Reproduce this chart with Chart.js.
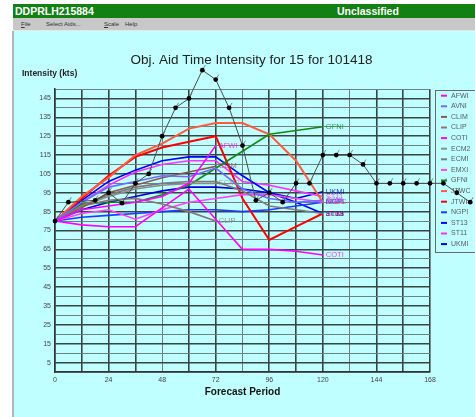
<!DOCTYPE html>
<html><head><meta charset="utf-8">
<script src="https://cdn.jsdelivr.net/npm/chart.js@4.4.0/dist/chart.umd.min.js"></script>
<style>
html,body{margin:0;padding:0;background:#fff;width:475px;height:417px;overflow:hidden;font-family:"Liberation Sans",Arial,sans-serif;}
#hdr{position:absolute;left:13px;top:4px;width:462px;height:14px;background:#128012;color:#fff;font-weight:bold;font-size:10.5px;line-height:14px;}
#hdr .l{position:absolute;left:2px;top:0}
#hdr .r{position:absolute;left:324px;top:0}
#menu{position:absolute;left:13px;top:18px;width:462px;height:12px;background:#c8c8c8;font-size:6px;line-height:12px;color:#333;border-bottom:1px solid #e6e6e6}
#menu span{position:absolute;top:0}
#side{position:absolute;left:12px;top:31px;width:2px;height:386px;background:#b4b4b4}
#bg{position:absolute;left:14px;top:31px;width:461px;height:386px;background:#c0ffff}
#wrap{position:absolute;left:13px;top:31px;width:462px;height:386px}
</style></head>
<body>
<div id="hdr"><span class="l">DDPRLH215884</span><span class="r">Unclassified</span></div>
<div id="menu"><span style="left:8px"><u>F</u>ile</span><span style="left:33px">Select Aids...</span><span style="left:91px"><u>S</u>cale</span><span style="left:112px">Help</span></div>
<div id="side"></div>
<div id="bg"></div>
<div id="wrap"><canvas id="c" width="462" height="386"></canvas></div>
<script>
// ---- data ----
const hours = [0, 12, 24, 36, 48, 60, 72, 84, 96, 108, 120];
const AFWI = [80, 86, 88, 90, 93, 100, 120];
const AVNI = [80, 90, 98, 101, 104, 103.5, 108, 97, 92, 90, 91];
const CLIM = [80, 87, 95, 99, 103, 106, 109];
const CLIP = [80, 88, 91, 92, 89, 85, 80];
const COTI = [80, 78, 77, 77, 87, 97, 81, 65, 65, 64, 62];
const ECM2 = [80, 88, 93, 97, 99, 100, 100];
const ECMI = [80, 88, 94, 98, 100, 101, 101, 96, 88, 86, 84];
const EMXI = [80, 84, 86, 81, 86, 90, 92, 94, 94, 92, 90];
const GFNI = [80, 89, 90, 90, 94, 99, 108, 117, 126, 128, 130];
const JTWC = [80, 93, 103, 115, 121, 129, 132, 132, 126, 112, 90];
const JTWI = [80, 92, 104, 114, 119, 122, 125, 92, 70, 77, 84];
const NGPI = [80, 82, 83, 84, 85, 86, 86, 85, 86, 88, 90];
const ST13 = [80, 91, 101, 107, 112, 114, 114, 104, 95, 90, 84];
const ST11 = [80, 90, 99, 106, 110, 112, 112, 101, 99, 96, 93];
const UKMI = [80, 86, 90, 93, 96, 98, 98, 97, 95, 92, 95.5];
const bestHours = [0, 6, 18, 24, 30, 36, 42, 48, 54, 60, 66, 72, 78, 84, 90, 96, 102, 108, 114, 120, 126, 132, 138, 144, 150, 156, 162, 168, 174, 180, 186];
const bestValues = [80, 90, 91, 95, 89.5, 100, 105, 125, 140, 145, 160, 155, 140, 120, 91, 95, 90, 100, 100, 115, 115, 115, 110, 100, 100, 100, 100, 100, 100, 95, 90];
const xTickLabels = [0, 24, 48, 72, 96, 120, 144, 168];
const yTickLabels = [5, 15, 25, 35, 45, 55, 65, 75, 85, 95, 105, 115, 125, 135, 145];

const models = [
  ['AFWI', AFWI], ['AVNI', AVNI], ['CLIM', CLIM], ['CLIP', CLIP], ['COTI', COTI],
  ['ECM2', ECM2], ['ECMI', ECMI], ['EMXI', EMXI], ['GFNI', GFNI], ['JTWC', JTWC],
  ['JTWI', JTWI], ['NGPI', NGPI], ['ST13', ST13], ['ST11', ST11], ['UKMI', UKMI]
];
const colors = {
  AFWI:'#ff00ff', AVNI:'#6c6cff', CLIM:'#8a5a50', CLIP:'#8c7474', COTI:'#ff00ff',
  ECM2:'#8c8c8c', ECMI:'#7a7a7a', EMXI:'#ff40ff', GFNI:'#108a10', JTWC:'#ff5a3c',
  JTWI:'#ff0000', NGPI:'#2038ff', ST13:'#0000ff', ST11:'#ff30ff', UKMI:'#0000e0'
};

const toXY = (xs, ys) => ys.map((v, i) => ({x: xs[i], y: v}));

const datasets = [];
models.forEach(([name, vals]) => {
  const wide = (name === 'JTWC' || name === 'JTWI');
  datasets.push({label: name, data: toXY(hours, vals), borderColor: colors[name],
    borderWidth: wide ? 2 : 1.6, pointRadius: 0, tension: 0});
});

const overlay = {
  id: 'overlay',
  beforeDatasetsDraw(chart) {
    const ctx = chart.ctx;
    ctx.save();
    // legend box
    const lx = 422, ly = 59, lw = 70, lh = 162;
    ctx.strokeStyle = '#6a6a6a'; ctx.lineWidth = 1;
    ctx.strokeRect(lx + 0.5, ly + 0.5, lw, lh);
    ctx.font = '7px "Liberation Sans", Arial, sans-serif';
    ctx.textBaseline = 'middle'; ctx.textAlign = 'left';
    models.forEach(([name], i) => {
      const y = ly + 5.7 + i * 10.6;
      ctx.strokeStyle = colors[name]; ctx.lineWidth = 2;
      ctx.beginPath(); ctx.moveTo(428, y); ctx.lineTo(434, y); ctx.stroke();
      ctx.fillStyle = '#5a5a5a';
      ctx.fillText(name, 438, y);
    });
    // titles
    ctx.fillStyle = '#222';
    ctx.font = '13.5px "Liberation Sans", Arial, sans-serif';
    ctx.textAlign = 'center';
    ctx.fillText('Obj. Aid Time Intensity for 15 for 101418', 238.5, 29);
    ctx.font = 'bold 8.5px "Liberation Sans", Arial, sans-serif';
    ctx.textAlign = 'left';
    ctx.fillText('Intensity (kts)', 9, 43);
    ctx.restore();
  },
  afterDatasetsDraw(chart) {
    const ctx = chart.ctx;
    ctx.save();
    ctx.font = '7.5px "Liberation Sans", Arial, sans-serif';
    ctx.textBaseline = 'middle'; ctx.textAlign = 'left';
    chart.data.datasets.forEach((ds, di) => {
      const pts = chart.getDatasetMeta(di).data;
      const p = pts[pts.length - 1];
      ctx.globalAlpha = 0.8;
      ctx.fillStyle = ds.borderColor;
      ctx.fillText(ds.label, p.x + 3, p.y);
    });
    ctx.globalAlpha = 1;
    // best track (observed) line, drawn through the chart's own scales
    const xs = chart.scales.x, ys = chart.scales.y;
    const pts = bestHours.map((h, i) => [xs.getPixelForValue(h), ys.getPixelForValue(bestValues[i])]);
    ctx.strokeStyle = '#4a4a4a'; ctx.lineWidth = 1;
    ctx.beginPath();
    pts.forEach(([x, y], i) => i ? ctx.lineTo(x, y) : ctx.moveTo(x, y));
    ctx.stroke();
    ctx.strokeStyle = '#666'; ctx.lineWidth = 0.8;
    pts.forEach(([x, y]) => {
      ctx.beginPath(); ctx.moveTo(x + 0.5, y - 1); ctx.lineTo(x + 3, y - 5); ctx.stroke();
    });
    ctx.fillStyle = '#000';
    pts.forEach(([x, y]) => { ctx.beginPath(); ctx.arc(x, y, 2.4, 0, Math.PI * 2); ctx.fill(); });
    ctx.restore();
  }
};

const thickY = c => c.tick && yTickLabels.includes(c.tick.value);
const thinX = [48, 84, 132];

new Chart(document.getElementById('c'), {
  type: 'line',
  data: {datasets},
  plugins: [overlay],
  options: {
    responsive: false, animation: false, devicePixelRatio: 1,
    layout: {padding: {left: 0, top: 58, right: 45, bottom: 15}},
    plugins: {legend: {display: false}, title: {display: false}, tooltip: {enabled: false}},
    scales: {
      x: {
        type: 'linear', min: 0, max: 168,
        afterFit: s => { s.height = 30; },
        ticks: {stepSize: 12, autoSkip: false, maxRotation: 0, padding: 4, color: '#444',
          font: {size: 7, family: '"Liberation Sans", Arial, sans-serif'},
          callback: v => xTickLabels.includes(v) ? String(v) : ''},
        grid: {drawTicks: false,
          color: c => (c.tick && thinX.includes(c.tick.value)) ? '#6f8080' : '#394444',
          lineWidth: c => (c.tick && thinX.includes(c.tick.value)) ? 1 : 1.6},
        border: {color: '#333', width: 1.5},
        title: {display: true, text: 'Forecast Period', color: '#111',
          font: {size: 10, weight: 'bold', family: '"Liberation Sans", Arial, sans-serif'},
          padding: {top: 2, bottom: 4}}
      },
      y: {
        min: 0, max: 150,
        afterFit: s => { s.width = 42; },
        ticks: {stepSize: 5, autoSkip: false, padding: 4, color: '#444',
          font: {size: 7, family: '"Liberation Sans", Arial, sans-serif'},
          callback: v => yTickLabels.includes(v) ? String(v) : ''},
        grid: {drawTicks: false,
          color: c => thickY(c) ? '#394444' : '#6f8080',
          lineWidth: c => thickY(c) ? 1.6 : 1},
        border: {color: '#333', width: 1.5}
      }
    }
  }
});
</script>
</body></html>
